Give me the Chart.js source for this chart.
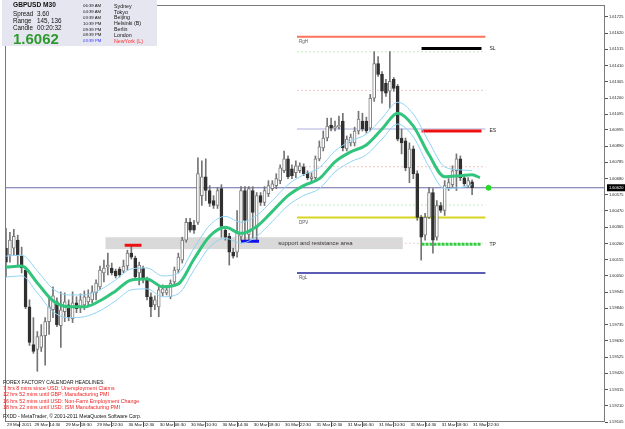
<!DOCTYPE html>
<html>
<head>
<meta charset="utf-8">
<script src="https://cdn.jsdelivr.net/npm/chart.js@4.4.0/dist/chart.umd.min.js"></script>
<style>
  html, body { margin: 0; padding: 0; background: #fff; }
  #wrap { position: relative; width: 625px; height: 429px; overflow: hidden; font-family: 'Liberation Sans', Arial, sans-serif; }
  #chart { position: absolute; left: 0; top: 0; }
  #info { position: absolute; left: 2px; top: 0; width: 155px; height: 46px; background: #e6e6f0; }
  .t { position: absolute; white-space: nowrap; line-height: 1; color: #111; }
  .hl { position: absolute; left: 3px; white-space: nowrap; line-height: 1; font-size: 5.3px; color: #ee2020; }
</style>
</head>
<body>
<div id="wrap">
  <canvas id="chart" width="625" height="429"></canvas>
  <div id="info">
    <div class="t" style="left:11px;top:2px;font-size:6.6px;font-weight:bold">GBPUSD</div>
    <div class="t" style="left:41px;top:2px;font-size:6.6px;font-weight:bold">M30</div>
    <div class="t" style="left:11px;top:11px;font-size:6.3px">Spread</div>
    <div class="t" style="left:35px;top:11px;font-size:6.3px">3.60</div>
    <div class="t" style="left:11px;top:18px;font-size:6.3px">Range</div>
    <div class="t" style="left:35px;top:18px;font-size:6.3px">145, 136</div>
    <div class="t" style="left:11px;top:25px;font-size:6.3px">Candle</div>
    <div class="t" style="left:35px;top:25px;font-size:6.3px">00:20:32</div>
    <div class="t" style="left:11px;top:31px;font-size:15px;font-weight:bold;color:#2e9a2e">1.6062</div>

    <div class="t" style="left:81px;top:4px;font-size:4.3px">06:39 AM</div>
    <div class="t" style="left:81px;top:10px;font-size:4.3px">04:39 AM</div>
    <div class="t" style="left:81px;top:15.5px;font-size:4.3px">03:39 AM</div>
    <div class="t" style="left:81px;top:21.5px;font-size:4.3px">10:39 PM</div>
    <div class="t" style="left:81px;top:27.5px;font-size:4.3px">09:39 PM</div>
    <div class="t" style="left:81px;top:33px;font-size:4.3px">08:39 PM</div>
    <div class="t" style="left:81px;top:39px;font-size:4.3px;color:#3030ff">03:39 PM</div>

    <div class="t" style="left:112px;top:3.5px;font-size:5.3px">Sydney</div>
    <div class="t" style="left:112px;top:9.5px;font-size:5.3px">Tokyo</div>
    <div class="t" style="left:112px;top:15px;font-size:5.3px">Beijing</div>
    <div class="t" style="left:112px;top:21px;font-size:5.3px">Helsinki (B)</div>
    <div class="t" style="left:112px;top:27px;font-size:5.3px">Berlin</div>
    <div class="t" style="left:112px;top:32.5px;font-size:5.3px">London</div>
    <div class="t" style="left:112px;top:38.5px;font-size:5.3px;color:#ff3030">NewYork (L)</div>
  </div>
  <div class="t" style="left:3px;top:379.5px;font-size:5px">FOREX FACTORY CALENDAR HEADLINES:</div>
  <div class="hl" style="top:386px">7 hrs 8 mins since USD: Unemployment Claims</div>
  <div class="hl" style="top:392px">12 hrs 52 mins until GBP: Manufacturing PMI</div>
  <div class="hl" style="top:399px">16 hrs 52 mins until USD: Non-Farm Employment Change</div>
  <div class="hl" style="top:405px">18 hrs 22 mins until USD: ISM Manufacturing PMI</div>
  <div class="t" style="left:3px;top:413.5px;font-size:5px">FXDD - MetaTrader, © 2001-2011 MetaQuotes Software Corp.</div>
</div>

<script>
'use strict';

// candles, one per M30 bar (index 0 = first bar on screen)
const opens = [
  1.60229, 1.60184, 1.60229, 1.60281, 1.60178, 1.60088, 1.59850, 1.59606, 1.59574, 1.59587,
  1.59664, 1.59754, 1.59831, 1.59882, 1.59728, 1.59818, 1.59863, 1.59773, 1.59876, 1.59844,
  1.59863, 1.59882, 1.59895, 1.59940, 1.59979, 1.60069, 1.60107, 1.60101, 1.60081, 1.60094,
  1.60081, 1.60114, 1.60197, 1.60165, 1.60069, 1.60101, 1.60030, 1.59915, 1.59863, 1.59850,
  1.59940, 1.59940, 1.59915, 1.60011, 1.60088, 1.60152, 1.60281, 1.60396, 1.60377, 1.60396,
  1.60569, 1.60691, 1.60602, 1.60537, 1.60505, 1.60614, 1.60345, 1.60306, 1.60204, 1.60204,
  1.60306, 1.60602, 1.60319, 1.60602, 1.60358, 1.60569, 1.60525, 1.60582, 1.60614, 1.60634,
  1.60666, 1.60730, 1.60807, 1.60743, 1.60717, 1.60730, 1.60756, 1.60717, 1.60679, 1.60685,
  1.60807, 1.60878, 1.60942, 1.61025, 1.61006, 1.61012, 1.61051, 1.60871, 1.60910, 1.60910,
  1.60987, 1.61051, 1.61051, 1.61006, 1.61199, 1.61423, 1.61353, 1.61295, 1.61244, 1.61321,
  1.61276, 1.60942, 1.60923, 1.60749, 1.60871, 1.60711, 1.60428, 1.60313, 1.60428, 1.60589,
  1.60300, 1.60505, 1.60473, 1.60621, 1.60640, 1.60730, 1.60807, 1.60685, 1.60634, 1.60659
];
const highs = [
  1.60358, 1.60332, 1.60351, 1.60313, 1.60236, 1.60101, 1.59895, 1.59780, 1.59690, 1.59735,
  1.59780, 1.59915, 1.59979, 1.59908, 1.59947, 1.59940, 1.59895, 1.59947, 1.59915, 1.59934,
  1.59953, 1.59960, 1.59985, 1.60024, 1.60114, 1.60152, 1.60197, 1.60133, 1.60094, 1.60107,
  1.60152, 1.60216, 1.60248, 1.60178, 1.60139, 1.60114, 1.60043, 1.59940, 1.59921, 1.59979,
  1.59992, 1.59985, 1.60024, 1.60107, 1.60197, 1.60300, 1.60422, 1.60422, 1.60409, 1.60813,
  1.60794, 1.60807, 1.60634, 1.60569, 1.60621, 1.60640, 1.60370, 1.60325, 1.60229, 1.60473,
  1.60627, 1.60627, 1.60627, 1.60627, 1.60589, 1.60589, 1.60627, 1.60666, 1.60666, 1.60711,
  1.60768, 1.60858, 1.60826, 1.60768, 1.60794, 1.60781, 1.60775, 1.60730, 1.60717, 1.60826,
  1.60923, 1.60987, 1.61070, 1.61070, 1.61051, 1.61083, 1.61102, 1.60955, 1.60967, 1.61012,
  1.61115, 1.61102, 1.61077, 1.61224, 1.61500, 1.61468, 1.61372, 1.61321, 1.61500, 1.61333,
  1.61288, 1.61000, 1.60942, 1.60910, 1.60890, 1.60730, 1.60441, 1.60454, 1.60621, 1.60614,
  1.60537, 1.60525, 1.60666, 1.60679, 1.60762, 1.60839, 1.60826, 1.60698, 1.60685, 1.60672
];
const lows = [
  1.60043, 1.60139, 1.60184, 1.60114, 1.60069, 1.59838, 1.59600, 1.59549, 1.59433, 1.59561,
  1.59472, 1.59671, 1.59780, 1.59722, 1.59587, 1.59754, 1.59760, 1.59748, 1.59812, 1.59812,
  1.59831, 1.59850, 1.59876, 1.59895, 1.59960, 1.60011, 1.60056, 1.60056, 1.60037, 1.60043,
  1.60069, 1.60088, 1.60159, 1.60030, 1.59992, 1.60004, 1.59895, 1.59786, 1.59831, 1.59786,
  1.59921, 1.59927, 1.59902, 1.59998, 1.60069, 1.60133, 1.60268, 1.60332, 1.60325, 1.60383,
  1.60505, 1.60537, 1.60499, 1.60486, 1.60486, 1.60300, 1.60281, 1.60120, 1.60165, 1.60171,
  1.60281, 1.60268, 1.60281, 1.60293, 1.60281, 1.60505, 1.60505, 1.60563, 1.60602, 1.60614,
  1.60646, 1.60717, 1.60679, 1.60679, 1.60685, 1.60717, 1.60698, 1.60672, 1.60659, 1.60672,
  1.60794, 1.60858, 1.60923, 1.60987, 1.60987, 1.61000, 1.60858, 1.60858, 1.60890, 1.60890,
  1.60967, 1.60987, 1.60974, 1.60987, 1.61179, 1.61340, 1.61167, 1.61211, 1.61134, 1.61244,
  1.60923, 1.60839, 1.60730, 1.60653, 1.60679, 1.60409, 1.60152, 1.60281, 1.60422, 1.60197,
  1.60281, 1.60460, 1.60441, 1.60602, 1.60627, 1.60602, 1.60666, 1.60634, 1.60621, 1.60576
];
const closes = [
  1.60139, 1.60281, 1.60306, 1.60184, 1.60101, 1.59850, 1.59619, 1.59561, 1.59658, 1.59664,
  1.59754, 1.59850, 1.59921, 1.59735, 1.59831, 1.59882, 1.59780, 1.59876, 1.59838, 1.59895,
  1.59915, 1.59915, 1.59947, 1.60004, 1.60088, 1.60101, 1.60120, 1.60069, 1.60049, 1.60056,
  1.60114, 1.60197, 1.60171, 1.60043, 1.60120, 1.60024, 1.59915, 1.59850, 1.59895, 1.59960,
  1.59966, 1.59960, 1.60004, 1.60088, 1.60171, 1.60281, 1.60396, 1.60345, 1.60345, 1.60711,
  1.60691, 1.60602, 1.60518, 1.60505, 1.60602, 1.60370, 1.60300, 1.60204, 1.60178, 1.60332,
  1.60602, 1.60409, 1.60614, 1.60460, 1.60569, 1.60525, 1.60602, 1.60634, 1.60646, 1.60679,
  1.60749, 1.60807, 1.60691, 1.60698, 1.60762, 1.60762, 1.60711, 1.60685, 1.60691, 1.60807,
  1.60884, 1.60942, 1.61019, 1.61006, 1.61019, 1.61025, 1.60878, 1.60935, 1.60948, 1.60987,
  1.61064, 1.61000, 1.60987, 1.61199, 1.61423, 1.61353, 1.61244, 1.61231, 1.61308, 1.61263,
  1.60935, 1.60910, 1.60749, 1.60871, 1.60711, 1.60428, 1.60300, 1.60428, 1.60589, 1.60281,
  1.60505, 1.60473, 1.60634, 1.60653, 1.60730, 1.60807, 1.60685, 1.60646, 1.60666, 1.60620
];

// moving average (green) and its envelope (light blue), read at these bars
const maIdx = [0, 4, 8, 12, 16, 20, 24, 28, 32, 36, 40, 44, 48, 52, 56, 60, 64, 68, 72, 76,
  80, 84, 88, 92, 96, 100, 104, 108, 112, 116, 119, 121];
const maValues = [1.60107, 1.60114, 1.60004, 1.59889, 1.59850, 1.59850, 1.59889, 1.59953, 1.60024, 1.60030,
  1.59979, 1.59998, 1.60159, 1.60306, 1.60364, 1.60325, 1.60370, 1.60467, 1.60569, 1.60634,
  1.60679, 1.60788, 1.60852, 1.60897, 1.61000, 1.61102, 1.61019, 1.60833, 1.60691, 1.60698,
  1.60704, 1.60685];
const envIdx = [0, 4, 8, 12, 16, 20, 24, 28, 32, 36, 40, 44, 48, 52, 56, 60, 64, 68, 72, 76,
  80, 84, 88, 92, 96, 100, 104, 108, 112, 116, 119];
const envUpper = [1.60178, 1.60184, 1.60082, 1.59966, 1.59927, 1.59927, 1.59960, 1.60024, 1.60095, 1.60101,
  1.60050, 1.60069, 1.60229, 1.60377, 1.60435, 1.60396, 1.60441, 1.60537, 1.60640, 1.60704,
  1.60749, 1.60858, 1.60923, 1.60967, 1.61070, 1.61173, 1.61096, 1.60916, 1.60755, 1.60736, 1.60730];
const envLower = [1.60043, 1.60050, 1.59940, 1.59819, 1.59780, 1.59786, 1.59825, 1.59889, 1.59960, 1.59966,
  1.59915, 1.59934, 1.60088, 1.60236, 1.60293, 1.60261, 1.60306, 1.60402, 1.60505, 1.60570,
  1.60614, 1.60723, 1.60788, 1.60833, 1.60935, 1.61032, 1.60948, 1.60755, 1.60614, 1.60621, 1.60640];

// pivot levels (drawn from pivotFrom to pivotTo)
const pivotNames = ['RgH', '', '', '', '', '', 'DPV', '', 'RgL'];
const pivotPrices = [1.61597, 1.61500, 1.61250, 1.61000, 1.60756, 1.60508, 1.60428, 1.60261, 1.60069];
const pivotFrom = 74.3;
const pivotTo = 122.4;

// trade levels
const tradeNames = ['SL', 'ES', 'TP'];
const tradePrices = [1.61520, 1.60987, 1.60255];
const tradeFrom = 106.1;
const tradeTo = 121.4;

// support / resistance band and its two markers
const bandText = 'support and resistance area';
const bandFrom = 25.4;
const bandTo = 101.3;
const bandHigh = 1.60300;
const bandLow = 1.60223;
const redMark = [30.3, 34.6, 1.60248];
const blueMark = [60.0, 64.6, 1.60274];

const lastPrice = 1.60620;
const lastDotAt = 123.2;

// axis ticks
const yTicks = [1.61725, 1.61620, 1.61515, 1.61410, 1.61305, 1.61200, 1.61095, 1.60995, 1.60890, 1.60785,
  1.60680, 1.60575, 1.60470, 1.60365, 1.60260, 1.60155, 1.60050, 1.59945, 1.59840, 1.59735,
  1.59630, 1.59525, 1.59420, 1.59315, 1.59210, 1.59105];
const timeTickIdx = [0, 7, 15, 23, 31, 39, 47, 55, 63, 71, 79, 87, 95, 103, 111, 119];
const timeLabels = ['29 Mar 2011', '29 Mar 14:30', '29 Mar 18:30', '29 Mar 22:30', '30 Mar 02:30',
  '30 Mar 06:30', '30 Mar 10:30', '30 Mar 14:30', '30 Mar 18:30', '30 Mar 22:30', '31 Mar 02:30',
  '31 Mar 06:30', '31 Mar 10:30', '31 Mar 14:30', '31 Mar 18:30', '31 Mar 22:30'];

// styles
const pivotStyles = [
  {color: '#ff7358', width: 2, dash: []},
  {color: '#c4ecc4', width: 1, dash: [2, 2]},
  {color: '#f2c4c4', width: 1, dash: [2, 2]},
  {color: '#d6d6ee', width: 2, dash: []},
  {color: '#f2c4c4', width: 1, dash: [2, 2]},
  {color: '#c4ecc4', width: 1, dash: [2, 2]},
  {color: '#d6d622', width: 2, dash: []},
  {color: '#f2d0d0', width: 1, dash: [2, 2]},
  {color: '#5c5cb4', width: 2, dash: []}
];
const tradeStyles = [
  {color: '#000000', width: 3, dash: []},
  {color: '#ee1111', width: 3, dash: []},
  {color: '#33cc44', width: 3, dash: [3, 1]}
];
const FONT = "'Liberation Sans', Arial, sans-serif";

function hLine(from, to, price, style, order) {
  return {
    type: 'line',
    data: [{x: from, y: price}, {x: to, y: price}],
    borderColor: style.color,
    borderWidth: style.width,
    borderDash: style.dash,
    pointRadius: 0,
    order: order
  };
}

const datasets = [];

// candle bodies
datasets.push({
  type: 'bar',
  data: opens.map((o, i) => ({x: i, y: [o, closes[i]]})),
  backgroundColor: opens.map((o, i) => closes[i] >= o ? '#ffffff' : '#303030'),
  borderColor: opens.map((o, i) => closes[i] >= o ? '#7c7c7c' : '#303030'),
  borderWidth: 1,
  borderSkipped: false,
  barThickness: 3,
  minBarLength: 1,
  grouped: false,
  order: 2
});
// wicks
datasets.push({
  type: 'bar',
  data: lows.map((l, i) => ({x: i, y: [l, highs[i]]})),
  backgroundColor: '#747474',
  barThickness: 1,
  grouped: false,
  order: 3
});
// MA and envelope
datasets.push({
  type: 'line',
  data: maIdx.map((x, k) => ({x: x, y: maValues[k]})),
  borderColor: '#30c47c',
  borderWidth: 3,
  pointRadius: 0,
  cubicInterpolationMode: 'monotone',
  order: 1
});
datasets.push({
  type: 'line',
  data: envIdx.map((x, k) => ({x: x, y: envUpper[k]})),
  borderColor: '#8fd3f5',
  borderWidth: 1,
  pointRadius: 0,
  cubicInterpolationMode: 'monotone',
  order: 1
});
datasets.push({
  type: 'line',
  data: envIdx.map((x, k) => ({x: x, y: envLower[k]})),
  borderColor: '#8fd3f5',
  borderWidth: 1,
  pointRadius: 0,
  cubicInterpolationMode: 'monotone',
  order: 1
});
// levels
pivotPrices.forEach((p, k) => datasets.push(hLine(pivotFrom, pivotTo, p, pivotStyles[k], 5)));
tradePrices.forEach((p, k) => datasets.push(hLine(tradeFrom, tradeTo, p, tradeStyles[k], 4)));
datasets.push(hLine(-1, 160, lastPrice, {color: '#6a6aa8', width: 1, dash: []}, 4));
datasets.push(hLine(redMark[0], redMark[1], redMark[2], {color: '#ee1111', width: 3, dash: []}, 1));
datasets.push(hLine(blueMark[0], blueMark[1], blueMark[2], {color: '#1111ee', width: 3, dash: []}, 1));
// last price dot
datasets.push({
  type: 'line',
  data: [{x: lastDotAt, y: lastPrice}],
  showLine: false,
  pointRadius: 2.5,
  pointBackgroundColor: '#22dd22',
  pointBorderColor: '#22dd22',
  order: 0
});

const overlay = {
  id: 'overlay',
  beforeDatasetsDraw(chart) {
    const {ctx, scales: {x, y}} = chart;
    ctx.save();
    ctx.fillStyle = '#d9d9d9';
    const x0 = x.getPixelForValue(bandFrom);
    const x1 = x.getPixelForValue(bandTo);
    const y0 = y.getPixelForValue(bandHigh);
    const y1 = y.getPixelForValue(bandLow);
    ctx.fillRect(x0, y0, x1 - x0, y1 - y0);
    ctx.restore();
  },
  afterDatasetsDraw(chart) {
    const {ctx, chartArea: a, scales: {x, y}} = chart;
    ctx.save();
    ctx.textBaseline = 'middle';

    // band caption
    ctx.font = '6px ' + FONT;
    ctx.fillStyle = '#333333';
    ctx.fillText(bandText, x.getPixelForValue(69.5), (y.getPixelForValue(bandHigh) + y.getPixelForValue(bandLow)) / 2);

    // pivot names under their lines
    ctx.font = '4.5px ' + FONT;
    ctx.fillStyle = '#555555';
    pivotNames.forEach((n, k) => {
      if (n) ctx.fillText(n, x.getPixelForValue(pivotFrom) + 2, y.getPixelForValue(pivotPrices[k]) + 5);
    });

    // trade names right of their lines
    ctx.font = '5px ' + FONT;
    ctx.fillStyle = '#222222';
    tradeNames.forEach((n, k) => {
      ctx.fillText(n, x.getPixelForValue(tradeTo) + 8, y.getPixelForValue(tradePrices[k]));
    });

    // frame
    ctx.strokeStyle = '#7a7a7a';
    ctx.lineWidth = 1;
    ctx.strokeRect(a.left + 0.5, a.top + 0.5, a.width - 1, a.height - 1);

    // last price box on the price axis
    const py = y.getPixelForValue(lastPrice);
    ctx.fillStyle = '#000000';
    ctx.fillRect(a.right + 2, py - 3.5, 18, 7);
    ctx.fillStyle = '#ffffff';
    ctx.font = '4px ' + FONT;
    ctx.fillText(lastPrice.toFixed(5), a.right + 4, py);
    ctx.restore();
  }
};

new Chart(document.getElementById('chart'), {
  type: 'bar',
  data: {datasets: datasets},
  plugins: [overlay],
  options: {
    responsive: false,
    devicePixelRatio: 1,
    animation: false,
    events: [],
    layout: {padding: {left: 3, top: 3, right: 0, bottom: 0}},
    plugins: {legend: {display: false}, tooltip: {enabled: false}},
    scales: {
      x: {
        type: 'linear',
        offset: false,
        min: -0.254,
        max: 152.93,
        grid: {drawOnChartArea: false, drawTicks: true, tickLength: 5, color: '#555'},
        border: {display: false},
        afterBuildTicks: (s) => { s.ticks = timeTickIdx.map(v => ({value: v})); },
        afterFit: (s) => { s.height = 7; },
        ticks: {
          autoSkip: false,
          maxRotation: 0,
          align: 'start',
          padding: -5,
          labelOffset: 1,
          color: '#111',
          font: {family: FONT, size: 4.4},
          callback: (v) => timeLabels[timeTickIdx.indexOf(v)]
        }
      },
      y: {
        type: 'linear',
        position: 'right',
        min: 1.59105,
        max: 1.61802,
        grid: {drawOnChartArea: false, drawTicks: true, tickLength: 3, color: '#555'},
        border: {display: false},
        afterBuildTicks: (s) => { s.ticks = yTicks.map(v => ({value: v})); },
        afterFit: (s) => { s.width = 20; },
        ticks: {
          autoSkip: false,
          padding: 1,
          color: '#222',
          font: {family: FONT, size: 4},
          callback: (v) => v.toFixed(5)
        }
      }
    }
  }
});
</script>
</body>
</html>
